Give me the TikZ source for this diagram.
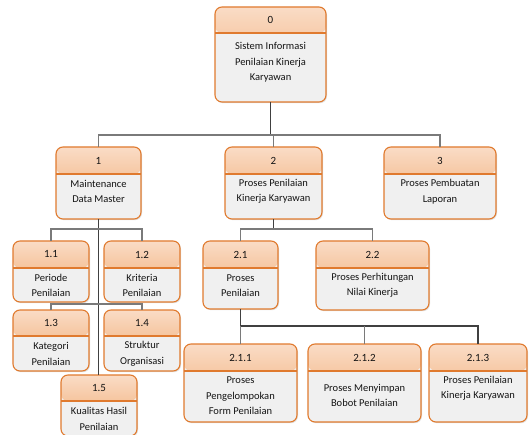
\documentclass[tikz,border=0pt]{standalone}
\usepackage{fontspec}
\setmainfont{Carlito}
\usetikzlibrary{shadows}

\definecolor{edgeorange}{HTML}{E07A2E}
\definecolor{hdtop}{HTML}{FADCC6}
\definecolor{hdbot}{HTML}{EFA66A}
\definecolor{bodyfill}{HTML}{F0F0F0}
\definecolor{linedark}{HTML}{404040}
\definecolor{linelight}{HTML}{7A7A7A}
\definecolor{textgray}{HTML}{141414}

\tikzset{
  procbox/.style={rectangle, rounded corners=7pt, draw=edgeorange, line width=1.1pt,
    fill=bodyfill, inner sep=0pt, outer sep=0pt,
    drop shadow={shadow xshift=1pt, shadow yshift=-1.2pt, opacity=0.25}},
  header/.style={path picture={
    \shade[top color=hdtop, bottom color=hdbot]
      (path picture bounding box.north west) rectangle ([yshift=-#1 pt]path picture bounding box.north east);
    \draw[edgeorange, line width=1.1pt]
      ([yshift=-#1 pt]path picture bounding box.north west) -- ([yshift=-#1 pt]path picture bounding box.north east);
  }},
  numtext/.style={inner sep=0pt, text=textgray, font=\fontsize{11}{12}\selectfont},
  bodytext/.style={inner sep=0pt, align=center, text=textgray, font=\fontsize{10.5}{15.5}\selectfont},
  trunk/.style={draw=linedark, line width=1.1pt},
  drop/.style={draw=linelight, line width=1.1pt},
}

% #1 name, #2 left, #3 top, #4 right, #5 bottom, #6 header divider y,
% #7 number, #8 description, #9 description centre y  (all in pt, y downwards)
\newcommand\ProcBox[9]{%
  \pgfmathsetmacro\pbw{#4-#2}%
  \pgfmathsetmacro\pbh{#5-#3}%
  \pgfmathsetmacro\pbx{(#2+#4)/2}%
  \pgfmathsetmacro\pby{-(#3+#5)/2}%
  \pgfmathsetmacro\pbhh{#6-#3}%
  \pgfmathsetmacro\pbny{-(#3+#6)/2}%
  \node[procbox, minimum width=\pbw pt, minimum height=\pbh pt, header=\pbhh] (#1) at (\pbx pt,\pby pt) {};
  \node[numtext] (#1-num) at (\pbx pt,\pbny pt) {#7};
  \node[bodytext] (#1-txt) at (\pbx pt,-#9 pt) {#8};
}

\begin{document}
\begin{tikzpicture}[x=1pt,y=1pt]
\useasboundingbox (0,0) rectangle (529,-435);

% junction points of the connector tree
\coordinate (j0) at (270.5,-135);
\coordinate (j1a) at (98.5,-229);
\coordinate (j1b) at (98.5,-304);
\coordinate (j2) at (273.5,-229);
\coordinate (j21) at (240.5,-326);

% boxes
\ProcBox{n0}{215}{7}{326}{102}{33}{0}{Sistem Informasi\\Penilaian Kinerja\\Karyawan}{62.5}
\ProcBox{n1}{56}{147}{141}{219}{174}{1}{Maintenance\\Data Master}{191.5}
\ProcBox{n2}{225}{147}{322}{219}{174}{2}{Proses Penilaian\\Kinerja Karyawan}{191.5}
\ProcBox{n3}{384}{147}{496}{219}{174}{3}{Proses Pembuatan\\Laporan}{191.5}
\ProcBox{n11}{13}{241}{89}{302}{268}{1.1}{Periode\\Penilaian}{285.5}
\ProcBox{n12}{104}{241}{180}{302}{268}{1.2}{Kriteria\\Penilaian}{285.5}
\ProcBox{n13}{13}{310}{89}{371}{336}{1.3}{Kategori\\Penilaian}{354}
\ProcBox{n14}{104}{310}{180}{371}{336}{1.4}{Struktur\\Organisasi}{354}
\ProcBox{n15}{61}{375}{137}{436}{401}{1.5}{Kualitas Hasil\\Penilaian}{419}
\ProcBox{n21}{203}{241}{278}{309}{268}{2.1}{Proses\\Penilaian}{285.5}
\ProcBox{n22}{316}{241}{429}{310}{268}{2.2}{Proses Perhitungan\\Nilai Kinerja}{285.5}
\ProcBox{n211}{184}{344}{297}{422}{371}{2.1.1}{Proses\\Pengelompokan\\Form Penilaian}{396}
\ProcBox{n212}{308}{344}{421}{422}{371}{2.1.2}{Proses Menyimpan\\Bobot Penilaian}{395.5}
\ProcBox{n213}{429}{344}{527}{422}{371}{2.1.3}{Proses Penilaian\\Kinerja Karyawan}{388.5}

% level 0 -> level 1
\draw[trunk] (n0.south) -- (j0);
\draw[drop] (n1.north) |- (j0) -| (n3.north);
\draw[drop] (n2.north) -- (n2.north |- j0);

% node 1 -> 1.1 ... 1.5
\draw[trunk] (n1.south) -- (n15.north -| n1.south);
\draw[drop] (n11.north) |- (j1a) -| (n12.north);
\draw[drop] (n13.north) |- (j1b) -| (n14.north);

% node 2 -> 2.1, 2.2
\draw[trunk] (n2.south) -- (j2);
\draw[drop] (n21.north) |- (j2) -| (n22.north);

% node 2.1 -> 2.1.1 ... 2.1.3
\draw[trunk] (n21.south) -- (j21) -| (n213.north);
\draw[drop] (n211.north) -- (j21);
\draw[drop] (n212.north) -- (n212.north |- j21);
\end{tikzpicture}
\end{document}
